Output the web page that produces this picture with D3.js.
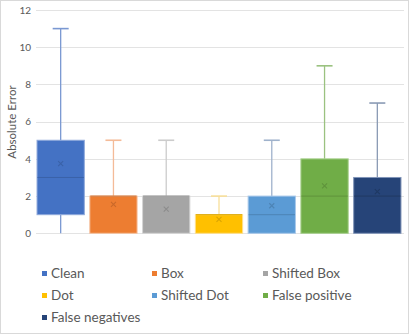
<!DOCTYPE html>
<html><head><meta charset="utf-8">
<script src="https://cdn.jsdelivr.net/npm/d3@7"></script>
<style>html,body{margin:0;padding:0;background:#fff;}svg{display:block;}</style>
</head><body>
<svg id="c" width="409" height="334"></svg>
<script>
const categories = ["Clean","Box","Shifted Box","Dot","Shifted Dot","False positive","False negatives"];
const mins    = [0, 0, 0, 0, 0, 0, 0];
const q1s     = [1, 0, 0, 0, 0, 0, 0];
const medians = [3, 2, 2, 1, 1, 2, 2];
const q3s     = [5, 2, 2, 1, 2, 4, 3];
const maxs    = [11, 5, 5, 2, 5, 9, 7];
const means   = [3.75, 1.55, 1.3, 0.75, 1.48, 2.55, 2.24];
const yTicks  = [0, 2, 4, 6, 8, 10, 12];
const fills    = ["#4472C4","#ED7D31","#A5A5A5","#FFC000","#5B9BD5","#70AD47","#264478"];
const whiskers = ["#7a98d2","#f4bb98","#cccccc","#f7df9a","#9fb2cc","#9bc280","#8a9ab4"];
const strokes  = ["#8fa9db","#f6c3a2","#d5d5d5","#ffe08a","#a8c8ea","#a6cf8c","#8094b8"];
const darks    = ["#3a62a8","#c9692a","#8c8c8c","#d9a400","#4d84b5","#5f933c","#1f3963"];

const svg = d3.select("#c");
const font = "Lato, 'Open Sans', sans-serif";
svg.append("rect").attr("x",0.5).attr("y",0.5).attr("width",408).attr("height",333)
  .attr("fill","#fff").attr("stroke","#d9d9d9");

const y = d3.scaleLinear().domain([0,12]).range([233.3,10]);
const x = d3.scaleBand().domain(categories).range([36,402]).paddingInner(0.085).paddingOuter(0.01);

// gridlines
svg.append("g").selectAll("line").data(yTicks).join("line")
  .attr("x1",36).attr("x2",404)
  .attr("y1",d=>Math.round(y(d))+0.5).attr("y2",d=>Math.round(y(d))+0.5)
  .attr("stroke","#e3e3e3").attr("stroke-width",1);

// y axis labels
const ax = svg.append("g").attr("transform","translate(36,0)")
  .call(d3.axisLeft(y).tickValues(yTicks).tickSize(0).tickPadding(5));
ax.select(".domain").remove();
ax.selectAll("text").attr("fill","#595959").style("font-family",font).style("font-size","10px");

svg.append("text").attr("transform","translate(16,122) rotate(-90)")
  .attr("text-anchor","middle").attr("fill","#595959")
  .style("font-family",font).style("font-size","11.5px").text("Absolute Error");

const bw = x.bandwidth();
const capW = 16;
const g = svg.append("g");
categories.forEach((c,i)=>{
  const cx = x(c) + bw/2;
  const wl = g.append("g").attr("stroke",whiskers[i]).attr("stroke-width",1.3);
  if (maxs[i] > q3s[i]) {
    wl.append("line").attr("x1",cx).attr("x2",cx).attr("y1",y(q3s[i])).attr("y2",y(maxs[i]));
    wl.append("line").attr("x1",cx-capW/2).attr("x2",cx+capW/2).attr("y1",y(maxs[i])).attr("y2",y(maxs[i])).attr("stroke-width",1.6);
  }
  if (mins[i] < q1s[i]) {
    wl.append("line").attr("x1",cx).attr("x2",cx).attr("y1",y(q1s[i])).attr("y2",y(mins[i]));
  }
  g.append("rect").attr("x",x(c)+0.5).attr("y",y(q3s[i])).attr("width",bw-1)
    .attr("height",y(q1s[i])-y(q3s[i]))
    .attr("fill",fills[i]).attr("stroke",strokes[i]).attr("stroke-width",1);
  g.append("line").attr("x1",x(c)+1).attr("x2",x(c)+bw-1)
    .attr("y1",y(medians[i])).attr("y2",y(medians[i]))
    .attr("stroke",darks[i]).attr("stroke-width",1);
  const my = y(means[i]), s = 2.5;
  g.append("path").attr("d",`M${cx-s},${my-s}L${cx+s},${my+s}M${cx-s},${my+s}L${cx+s},${my-s}`)
    .attr("stroke",darks[i]).attr("stroke-width",1.1).attr("fill","none");
});

// legend
const colX = [42, 152, 263];
const rowY = [276, 298, 320];
const lg = svg.append("g");
categories.forEach((c,i)=>{
  const col = i % 3, row = Math.floor(i/3);
  const lx = colX[col], ly = rowY[row];
  lg.append("rect").attr("x",lx).attr("y",ly-5).attr("width",5).attr("height",5).attr("fill",fills[i]);
  lg.append("text").attr("x",lx+9).attr("y",ly+2.3).attr("fill","#595959")
    .style("font-family",font).style("font-size","13.5px").text(c);
});
</script>
</body></html>
